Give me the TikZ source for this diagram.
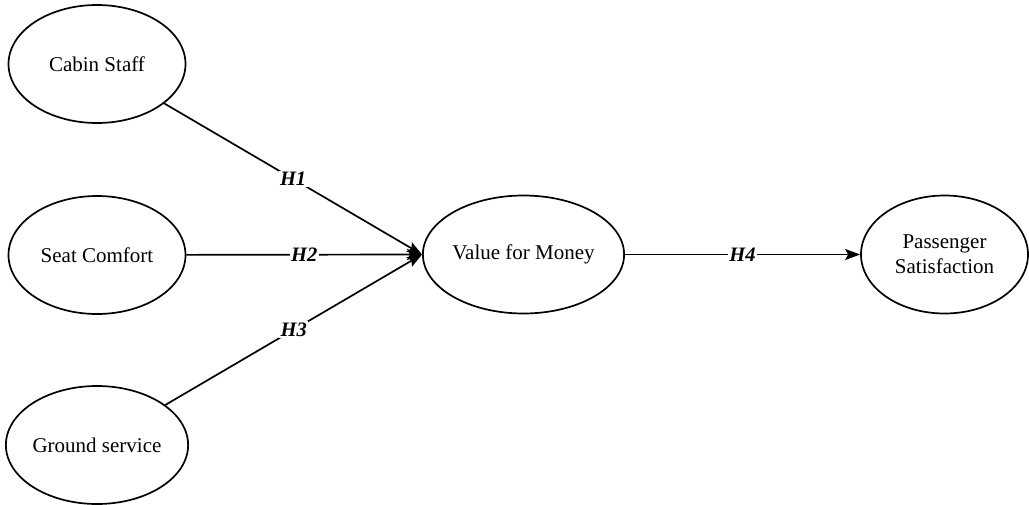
\documentclass[tikz,border=0pt]{standalone}
\usepackage{fontspec}
\setmainfont{Liberation Serif}
\usetikzlibrary{shapes.geometric,arrows.meta}
\begin{document}
\begin{tikzpicture}[x=1pt,y=-1pt,
  construct/.style={ellipse,draw,line width=1.7pt,minimum width=177pt,minimum height=118pt,inner sep=0pt,align=center,font=\fontsize{21}{25}\selectfont},
  link/.style={draw,line width=1.7pt,-{Stealth[length=15pt,width=11pt,inset=3pt]}},
  hlabel/.style={midway,fill=white,inner sep=1.5pt,font=\fontsize{20.5}{24}\selectfont\bfseries\itshape}]
\useasboundingbox (0,0) rectangle (1029,504);
\node[construct] (cabin) at (97,64) {Cabin Staff};
\node[construct] (seat) at (97,255) {Seat Comfort};
\node[construct] (ground) at (97,445) {Ground service};
\node[construct] (vfm) at (523.5,254.5) {Value for Money};
\node[construct,minimum width=167pt] (pass) at (944.5,254.5) {Passenger\\Satisfaction};
\draw[link] (cabin) -- (vfm.west) node[hlabel] {H1};
\draw[link] (seat) -- (vfm.west) node[hlabel] {H2};
\draw[link] (ground) -- (vfm.west) node[hlabel] {H3};
\draw[link] (vfm.east) -- (pass.west) node[hlabel] {H4};
\end{tikzpicture}
\end{document}
